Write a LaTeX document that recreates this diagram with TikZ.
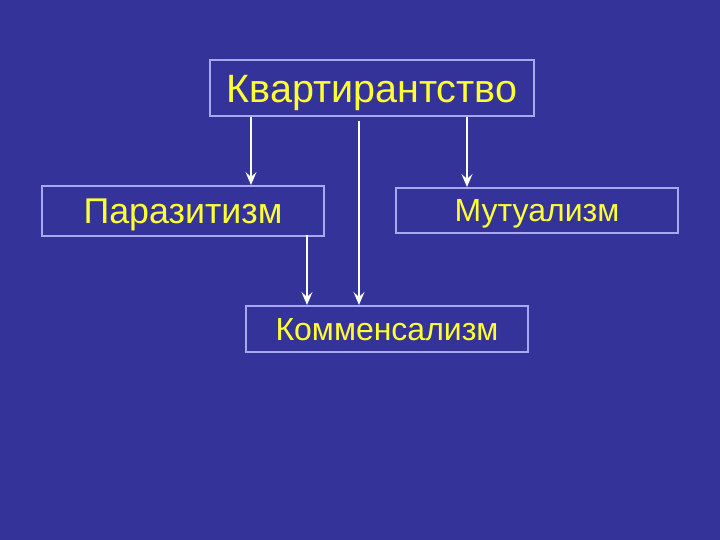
\documentclass[tikz,border=0pt]{standalone}
\usepackage{fontspec}
\setmainfont{Liberation Sans}
\usetikzlibrary{arrows.meta}
\definecolor{slidebg}{HTML}{333399}
\definecolor{boxline}{HTML}{A8A8F0}
\definecolor{txtyellow}{HTML}{FFFF33}
\begin{document}
\begin{tikzpicture}[x=1pt, y=-1pt,
  box/.style={draw=boxline, line width=2pt, text=txtyellow, inner sep=0pt, text depth=0pt, rectangle},
  arr/.style={draw=white, line width=2pt, -{Stealth[length=13pt, width=11pt, inset=5pt]}}]
\fill[slidebg] (0,0) rectangle (720,540);
\useasboundingbox (0,0) rectangle (720,540);
\node[box, minimum width=324pt, minimum height=56pt, text height=28.3pt, font=\fontsize{39.5}{42}\selectfont] (kv) at (372, 88) {Квартирантство};
\node[box, minimum width=282pt, minimum height=50pt, text height=25.6pt, font=\fontsize{35.8}{38}\selectfont] (par) at (183, 211) {Паразитизм};
\node[box, minimum width=282pt, minimum height=45pt, text height=22.9pt, font=\fontsize{32}{34}\selectfont] (mut) at (537, 210.5) {Мутуализм};
\node[box, minimum width=282pt, minimum height=46pt, text height=22.9pt, font=\fontsize{32}{34}\selectfont] (kom) at (387, 329) {Комменсализм};
% arrows
\draw[arr] ([xshift=42pt]kv.south west) -- ([xshift=42pt]kv.south west |- par.north);
\draw[arr] ([xshift=150pt, yshift=-4pt]kv.south west) -- ([xshift=150pt]kv.south west |- kom.north);
\draw[arr] ([xshift=258pt]kv.south west) -- ([xshift=258pt]kv.south west |- mut.north);
\draw[arr] ([xshift=-18pt, yshift=2pt]par.south east) -- ([xshift=-18pt]par.south east |- kom.north);
\end{tikzpicture}
\end{document}
